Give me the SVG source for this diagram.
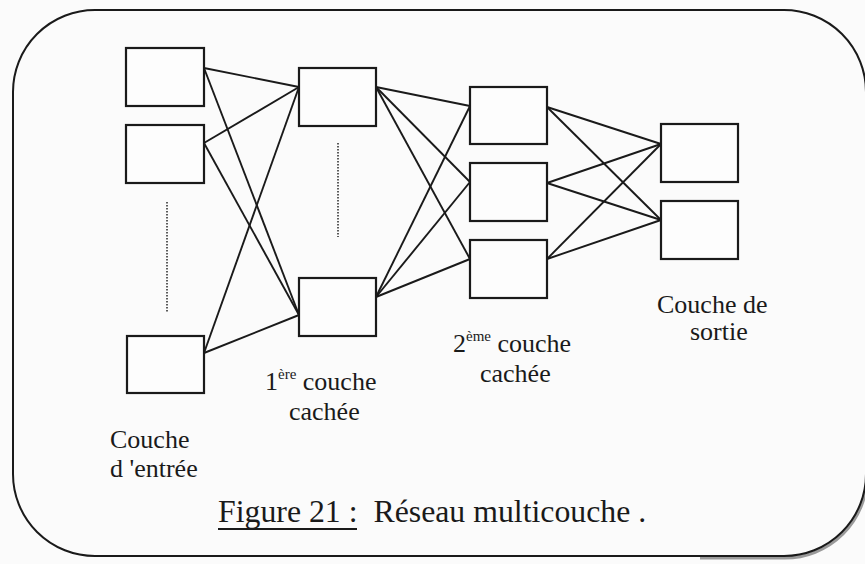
<svg xmlns="http://www.w3.org/2000/svg" width="865" height="564" viewBox="0 0 865 564">
  <style>
    .frame { fill: none; stroke: #1a1a1a; stroke-width: 2; }
    .box { fill: #fdfdfd; stroke: #1a1a1a; stroke-width: 2.2; }
    .link { stroke: #1a1a1a; stroke-width: 1.9; fill: none; }
    .dots { stroke: #333; stroke-width: 1.6; stroke-dasharray: 1.5 1.5; }
    text { font-family: 'Liberation Serif', 'DejaVu Serif', 'Times New Roman', serif; fill: #1a1a1a; }
    .lbl { font-size: 26px; }
    .cap { font-size: 31.8px; }
  </style>
  <rect x="0" y="0" width="865" height="564" fill="#fbfbfb"/>
  <!-- shadow along the lower right corner of the frame -->
  <path d="M 700 558 L 785 558 A 82 82 0 0 0 867 476" fill="none" stroke="#9a9a9a" stroke-width="3"/>
  <!-- rounded outer frame -->
  <rect class="frame" x="13" y="10" width="853" height="546" rx="82" ry="82"/>

  <!-- connections between layers -->
  <g id="connectors">
    <line class="link" x1="204" y1="68" x2="299" y2="87"/>
    <line class="link" x1="204" y1="68" x2="299" y2="315"/>
    <line class="link" x1="204" y1="143" x2="299" y2="87"/>
    <line class="link" x1="204" y1="143" x2="299" y2="315"/>
    <line class="link" x1="204" y1="353" x2="299" y2="87"/>
    <line class="link" x1="204" y1="353" x2="299" y2="315"/>

    <line class="link" x1="376" y1="87" x2="470" y2="106"/>
    <line class="link" x1="376" y1="87" x2="470" y2="182"/>
    <line class="link" x1="376" y1="87" x2="470" y2="259"/>
    <line class="link" x1="376" y1="297" x2="470" y2="106"/>
    <line class="link" x1="376" y1="297" x2="470" y2="182"/>
    <line class="link" x1="376" y1="297" x2="470" y2="259"/>

    <line class="link" x1="547" y1="107" x2="661" y2="144"/>
    <line class="link" x1="547" y1="107" x2="661" y2="220"/>
    <line class="link" x1="547" y1="183" x2="661" y2="144"/>
    <line class="link" x1="547" y1="183" x2="661" y2="220"/>
    <line class="link" x1="547" y1="259" x2="661" y2="144"/>
    <line class="link" x1="547" y1="259" x2="661" y2="220"/>
  </g>

  <!-- input layer -->
  <g id="input-1"><rect class="box" x="126" y="48" width="78" height="58"/></g>
  <g id="input-2"><rect class="box" x="126" y="125" width="78" height="58"/></g>
  <g id="input-n"><rect class="box" x="127" y="336" width="77" height="57"/></g>
  <line class="dots" x1="167" y1="202" x2="167" y2="313"/>

  <!-- first hidden layer -->
  <g id="hidden1-1"><rect class="box" x="299" y="68" width="77" height="58"/></g>
  <g id="hidden1-n"><rect class="box" x="299" y="278" width="77" height="58"/></g>
  <line class="dots" x1="338" y1="143" x2="338" y2="237"/>

  <!-- second hidden layer -->
  <g id="hidden2-1"><rect class="box" x="470" y="87" width="77" height="57"/></g>
  <g id="hidden2-2"><rect class="box" x="470" y="163" width="77" height="58"/></g>
  <g id="hidden2-3"><rect class="box" x="470" y="240" width="77" height="58"/></g>

  <!-- output layer -->
  <g id="output-1"><rect class="box" x="661" y="124" width="77" height="58"/></g>
  <g id="output-2"><rect class="box" x="661" y="201" width="77" height="58"/></g>

  <!-- layer labels -->
  <text class="lbl" x="110" y="448">Couche</text>
  <text class="lbl" x="110" y="477">d 'entrée</text>

  <text class="lbl" x="265" y="390">1<tspan font-size="15" dy="-11">ère</tspan><tspan dy="11"> couche</tspan></text>
  <text class="lbl" x="289" y="420">cachée</text>

  <text class="lbl" x="453" y="352">2<tspan font-size="15" dy="-11">ème</tspan><tspan dy="11"> couche</tspan></text>
  <text class="lbl" x="480" y="382">cachée</text>

  <text class="lbl" x="657" y="313">Couche de</text>
  <text class="lbl" x="690" y="340">sortie</text>

  <!-- caption -->
  <text class="cap" x="218" y="522" xml:space="preserve">Figure 21 :  Réseau multicouche .</text>
  <line x1="218" y1="529" x2="357" y2="529" stroke="#1a1a1a" stroke-width="2"/>
</svg>
